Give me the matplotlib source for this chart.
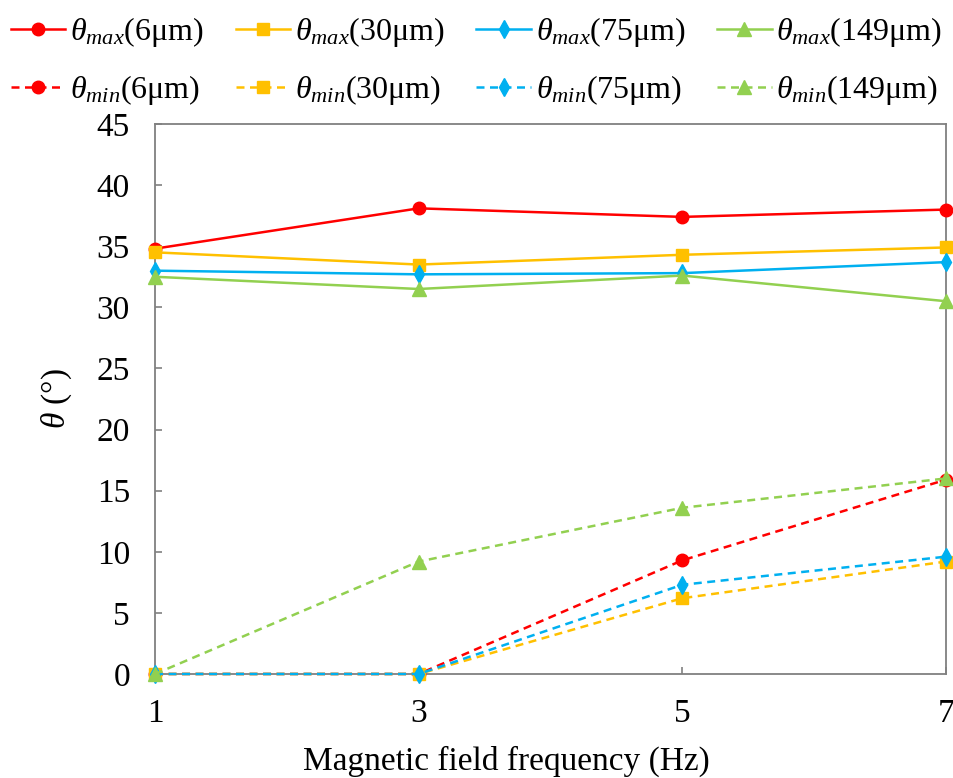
import matplotlib
matplotlib.use("Agg")
import matplotlib.pyplot as plt

plt.rcParams['font.family'] = ['Liberation Serif', 'DejaVu Serif']
plt.rcParams['mathtext.fontset'] = 'custom'
plt.rcParams['mathtext.rm'] = 'Liberation Serif'
plt.rcParams['mathtext.it'] = 'Liberation Serif:italic'

# data
freq = [1, 3, 5, 7]
sizes = ['6', '30', '75', '149']
max_6 = [34.8, 38.1, 37.4, 38.0]
max_30 = [34.5, 33.5, 34.3, 34.9]
max_75 = [33.0, 32.7, 32.8, 33.7]
max_149 = [32.5, 31.5, 32.6, 30.5]
min_6 = [0, 0, 9.3, 15.9]
min_30 = [0, 0, 6.2, 9.2]
min_75 = [0, 0, 7.3, 9.6]
min_149 = [0, 9.2, 13.6, 16.0]

colors = ['#ff0000', '#ffc000', '#00b0f0', '#92d050']
markers = ['o', 's', 'd', '^']
msizes = [9, 9, 9, 10]
max_vals = [max_6, max_30, max_75, max_149]
min_vals = [min_6, min_30, min_75, min_149]

fig = plt.figure(figsize=(9.54, 7.78), dpi=100, facecolor='white')
ax = fig.add_axes([0.1625, 0.1337, 0.8291, 0.7069])

handles = []
labels = []
for i in range(4):
    h1, = ax.plot(freq, max_vals[i], color=colors[i], marker=markers[i],
                  markersize=msizes[i], linewidth=1.8, clip_on=False, zorder=3)
    h2, = ax.plot(freq, min_vals[i], color=colors[i], marker=markers[i],
                  markersize=msizes[i], linewidth=1.8, linestyle=(0, (3.2, 2.2)),
                  clip_on=False, zorder=3)
    handles += [h1, h2]
    labels += [r'$\theta_{max}$(' + sizes[i] + 'μm)',
               r'$\theta_{min}$(' + sizes[i] + 'μm)']

ax.set_xlim(1, 7)
ax.set_ylim(0, 45)
ax.set_xticks(freq)
ax.set_yticks(range(0, 46, 5))
ax.tick_params(direction='in', length=5, width=1.2, color='#808080',
               labelsize=24)
ax.tick_params(axis='x', pad=17.5)
ax.tick_params(axis='y', pad=18)
for s in ax.spines.values():
    s.set_color('#808080')
    s.set_linewidth(1.3)

ax.set_xlabel('Magnetic field frequency (Hz)', fontsize=24)
ax.xaxis.set_label_coords(0.444, -0.13)
ax.set_ylabel(r'$\theta$ (°)', fontsize=24)
ax.yaxis.set_label_coords(-0.103, 0.5)

fig.legend(handles, labels, ncol=4, loc='upper left',
           bbox_to_anchor=(-0.002, 0.997), frameon=False, fontsize=23,
           handlelength=1.7, handletextpad=0.15, columnspacing=1.0,
           labelspacing=0.75, borderaxespad=0.0)

fig.savefig('out.png', dpi=100, facecolor='white')
